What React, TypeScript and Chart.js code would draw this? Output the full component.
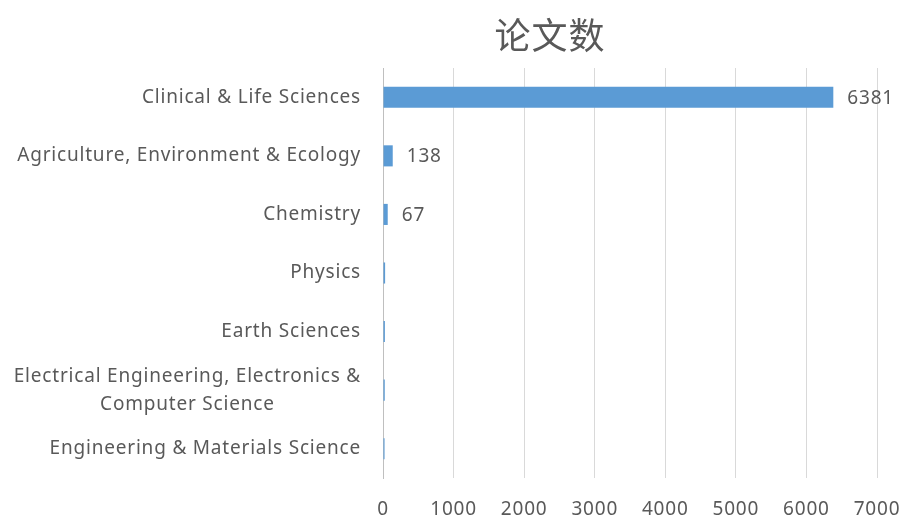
import React, { useEffect, useRef } from "react";
import { Chart, registerables } from "chart.js";

Chart.register(...registerables);

const chartTitle = "论文数";
const categories: string[][] = [
  ["Clinical & Life Sciences"],
  ["Agriculture, Environment & Ecology"],
  ["Chemistry"],
  ["Physics"],
  ["Earth Sciences"],
  ["Electrical Engineering, Electronics &", "Computer Science"],
  ["Engineering & Materials Science"],
];
const values: number[] = [6381, 138, 67, 30, 27, 25, 22];
const shownLabels: boolean[] = [true, true, true, false, false, false, false];
const xTicks: number[] = [0, 1000, 2000, 3000, 4000, 5000, 6000, 7000];

const FONT = "'Noto Sans', sans-serif";
const TEXT = "#595959";

function setFont(ctx: any, size: number, family = FONT, spacing = 0.8) {
  ctx.font = `${size}px ${family}`;
  try {
    ctx.letterSpacing = `${spacing}px`;
  } catch (e) {}
}

export default function App() {
  const ref = useRef<HTMLCanvasElement | null>(null);
  useEffect(() => {
    if (!ref.current) return;
    const labelPlugin = {
      id: "customLabels",
      afterDraw(chart: any) {
        const ctx = chart.ctx;
        const y = chart.scales.y;
        const x = chart.scales.x;
        ctx.save();
        ctx.fillStyle = TEXT;
        // title
        setFont(ctx, 36, "'Noto Sans CJK SC', sans-serif", 1);
        ctx.textAlign = "center";
        ctx.textBaseline = "middle";
        ctx.fillText(chartTitle, 550, 35);

        setFont(ctx, 19);
        ctx.textBaseline = "middle";
        categories.forEach((lines, i) => {
          const cy = y.getPixelForTick(i);
          const widths = lines.map((l) => ctx.measureText(l).width);
          const bw = Math.max(...widths);
          const right = 361;
          const lh = 28;
          lines.forEach((l, j) => {
            const ly = cy + (j - (lines.length - 1) / 2) * lh;
            ctx.textAlign = "center";
            ctx.fillText(l, right - bw / 2, ly);
          });
        });
        const meta = chart.getDatasetMeta(0);
        ctx.textAlign = "left";
        meta.data.forEach((bar: any, i: number) => {
          if (!shownLabels[i]) return;
          ctx.fillText(String(values[i]), bar.x + 14, bar.y + 1);
        });
        ctx.textAlign = "center";
        xTicks.forEach((v) => {
          ctx.fillText(String(v), x.getPixelForValue(v), 510);
        });
        ctx.restore();
      },
    };
    const chart = new Chart(ref.current, {
      type: "bar",
      data: {
        labels: categories.map((c) => c.join(" ")),
        datasets: [
          {
            data: values,
            backgroundColor: "#5B9BD5",
            barPercentage: 0.36,
            categoryPercentage: 1,
          },
        ],
      },
      options: {
        indexAxis: "y",
        animation: false,
        responsive: false,
        layout: { padding: { left: 0, right: 27, top: 68, bottom: 0 } },
        plugins: {
          legend: { display: false },
          tooltip: { enabled: false },
          title: { display: false },
        },
        scales: {
          x: {
            min: 0,
            max: 7000,
            afterBuildTicks: (s: any) => {
              s.ticks = xTicks.map((v) => ({ value: v }));
            },
            grid: { color: "#D9D9D9", drawTicks: false },
            border: { display: false },
            ticks: { display: false },
            afterFit: (s: any) => {
              s.height = 42;
            },
          },
          y: {
            grid: { display: false, drawTicks: false },
            border: { display: true, color: "#BFBFBF" },
            ticks: { display: false },
            afterFit: (s: any) => {
              s.width = 383;
            },
          },
        },
      },
      plugins: [labelPlugin],
    });
    return () => chart.destroy();
  }, []);
  return (
    <div style={{ position: "fixed", left: 0, top: 0, width: 904, height: 520, background: "#fff" }}>
      <canvas ref={ref} width={904} height={520} />
    </div>
  );
}
